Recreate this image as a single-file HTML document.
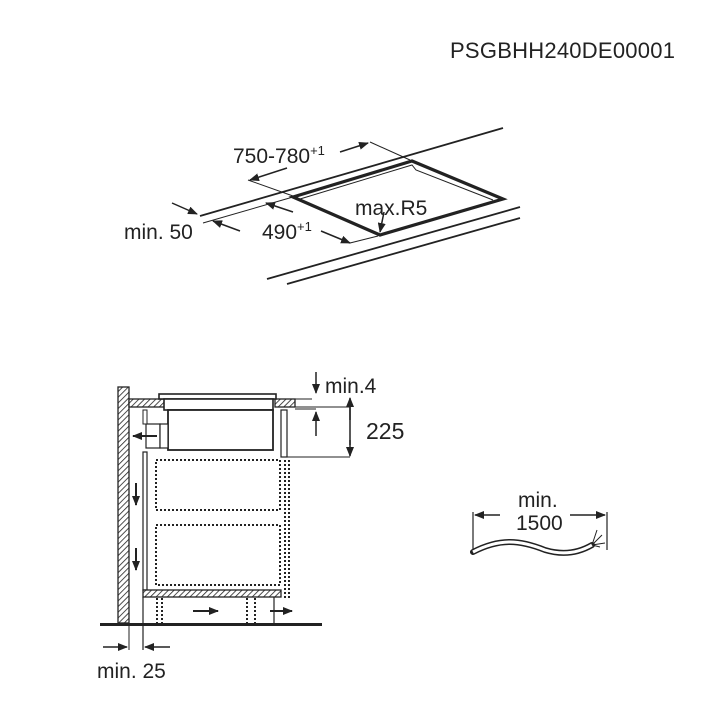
<!DOCTYPE html>
<html><head><meta charset="utf-8"><style>
html,body{margin:0;padding:0;background:#fff;width:720px;height:720px;overflow:hidden}
text{font-family:"Liberation Sans",Arial,sans-serif;fill:#222}
</style></head><body>
<svg width="720" height="720" viewBox="0 0 720 720" xmlns="http://www.w3.org/2000/svg">
<defs>
<pattern id="h" width="4" height="4" patternUnits="userSpaceOnUse" patternTransform="rotate(45)">
<rect width="4" height="4" fill="#fff"/><line x1="0" y1="0" x2="0" y2="4" stroke="#222" stroke-width="1.6"/></pattern>
<marker id="a" markerWidth="10" markerHeight="8" refX="9" refY="4" orient="auto" markerUnits="userSpaceOnUse"><path d="M0,0 L10,4 L0,8 z" fill="#222"/></marker>
</defs>
<text x="450" y="58" font-size="22" textLength="225">PSGBHH240DE00001</text>

<!-- top diagram -->
<g stroke="#222" fill="none">
<line x1="200" y1="216" x2="503" y2="128" stroke-width="1.8"/>
<line x1="203" y1="223" x2="293" y2="197" stroke-width="1"/>
<line x1="267" y1="279" x2="520" y2="207" stroke-width="1.8"/>
<line x1="287" y1="284" x2="520" y2="218" stroke-width="1.8"/>
<path d="M293,197 L412,161 L503,199 L380,235 Z" stroke-width="3.2"/>
<path d="M300,199 L412,165 L416,170 L493,200" stroke-width="1"/>
<line x1="370" y1="142" x2="410" y2="160" stroke-width="1"/>
<line x1="340" y1="152" x2="368" y2="143" stroke-width="1.5" marker-end="url(#a)"/>
<line x1="248" y1="180" x2="293" y2="196" stroke-width="1"/>
<line x1="287" y1="168" x2="250" y2="180" stroke-width="1.5" marker-end="url(#a)"/>
<line x1="293" y1="212" x2="266" y2="203" stroke-width="1.5" marker-end="url(#a)"/>
<line x1="321" y1="231" x2="350" y2="243" stroke-width="1.5" marker-end="url(#a)"/>
<line x1="350" y1="243" x2="378" y2="236" stroke-width="1"/>
<line x1="172" y1="203" x2="197" y2="214" stroke-width="1.5" marker-end="url(#a)"/>
<line x1="240" y1="231" x2="213" y2="221" stroke-width="1.5" marker-end="url(#a)"/>
<line x1="384" y1="212" x2="380" y2="232" stroke-width="1.5" marker-end="url(#a)"/>
</g>
<text x="233" y="163" font-size="21">750-780<tspan font-size="13" dy="-8">+1</tspan></text>
<text x="124" y="239" font-size="21">min. 50</text>
<text x="262" y="239" font-size="21">490<tspan font-size="13" dy="-8">+1</tspan></text>
<text x="355" y="215" font-size="21">max.R5</text>

<!-- bottom diagram -->
<g stroke="#222">
<rect x="118" y="387" width="11" height="236" fill="url(#h)" stroke-width="1.3"/>
<rect x="129" y="399" width="36" height="8" fill="url(#h)" stroke-width="1.3"/>
<rect x="275" y="399" width="20" height="8" fill="url(#h)" stroke-width="1.3"/>
<line x1="295" y1="399" x2="312" y2="399" stroke-width="1"/>
<line x1="295" y1="407" x2="312" y2="407" stroke-width="1"/>
<rect x="159" y="394" width="117" height="5" fill="#fff" stroke-width="1.6"/>
<rect x="164" y="399" width="109" height="11" fill="#fff" stroke-width="1.6"/>
<rect x="168" y="410" width="105" height="40" fill="#fff" stroke-width="1.8"/>
<rect x="146" y="424" width="14" height="24" fill="#fff" stroke-width="1.2"/>
<rect x="160" y="424" width="8" height="24" fill="#fff" stroke-width="1.2"/>
<rect x="143" y="410" width="4" height="14" fill="#fff" stroke-width="1"/>
<rect x="143" y="452" width="4" height="138" fill="#fff" stroke-width="1.2"/>
<rect x="281" y="410" width="6" height="47" fill="#fff" stroke-width="1.2"/>
<line x1="287" y1="457" x2="350" y2="457" stroke-width="1"/>
<line x1="295" y1="407" x2="350" y2="407" stroke-width="1"/>
<line x1="350" y1="420" x2="350" y2="398" stroke-width="1.5" marker-end="url(#a)"/>
<line x1="350" y1="440" x2="350" y2="456" stroke-width="1.5" marker-end="url(#a)"/>
<line x1="350" y1="405" x2="350" y2="445" stroke-width="1.5"/>
<line x1="316" y1="372" x2="316" y2="393" stroke-width="1.5" marker-end="url(#a)"/>
<line x1="316" y1="436" x2="316" y2="412" stroke-width="1.5" marker-end="url(#a)"/>
<line x1="295" y1="409" x2="316" y2="409" stroke-width="1"/>
<g fill="none" stroke-width="2" stroke-dasharray="2,2">
<rect x="156" y="460" width="124" height="50"/>
<rect x="156" y="525" width="124" height="60"/>
<line x1="285" y1="460" x2="285" y2="598"/>
<line x1="289" y1="460" x2="289" y2="598"/>
<line x1="157" y1="598" x2="157" y2="623"/>
<line x1="162" y1="598" x2="162" y2="623"/>
<line x1="247" y1="598" x2="247" y2="623"/>
<line x1="255" y1="598" x2="255" y2="623"/>
</g>
<rect x="143" y="590" width="138" height="7" fill="url(#h)" stroke-width="1.3"/>
<line x1="143" y1="597" x2="143" y2="650" stroke-width="1.2"/>
<line x1="274" y1="597" x2="274" y2="623" stroke-width="1.2"/>
<line x1="129" y1="623" x2="129" y2="650" stroke-width="1"/>
<line x1="100" y1="624.5" x2="322" y2="624.5" stroke-width="3"/>
<g stroke-width="2" marker-end="url(#a)">
<line x1="157" y1="436" x2="133" y2="436"/>
<line x1="136" y1="483" x2="136" y2="505"/>
<line x1="136" y1="548" x2="136" y2="570"/>
<line x1="193" y1="611" x2="218" y2="611"/>
<line x1="270" y1="611" x2="292" y2="611"/>
</g>
<line x1="103" y1="647" x2="127" y2="647" stroke-width="1.5" marker-end="url(#a)"/>
<line x1="170" y1="647" x2="145" y2="647" stroke-width="1.5" marker-end="url(#a)"/>
</g>
<text x="325" y="393" font-size="21">min.4</text>
<text x="366" y="439" font-size="23">225</text>
<text x="97" y="678" font-size="21">min. 25</text>

<!-- cable -->
<g stroke="#222" fill="none">
<line x1="473" y1="512" x2="473" y2="553" stroke-width="1.2"/>
<line x1="607" y1="512" x2="607" y2="550" stroke-width="1.2"/>
<line x1="500" y1="515" x2="475" y2="515" stroke-width="1.5" marker-end="url(#a)"/>
<line x1="570" y1="515" x2="605" y2="515" stroke-width="1.5" marker-end="url(#a)"/>
<path d="M473,552 C500,538 520,540 545,550 C565,556 580,552 592,545" stroke-width="6" stroke-linecap="round"/>
<path d="M473,552 C500,538 520,540 545,550 C565,556 580,552 592,545" stroke="#fff" stroke-width="3"/>
<path d="M592,545 L597,530 M592,545 L602,535 M592,545 L605,543 M592,545 L600,547" stroke-width="1"/>
</g>
<text x="518" y="507" font-size="21">min.</text>
<text x="516" y="530" font-size="21">1500</text>
</svg>
</body></html>
